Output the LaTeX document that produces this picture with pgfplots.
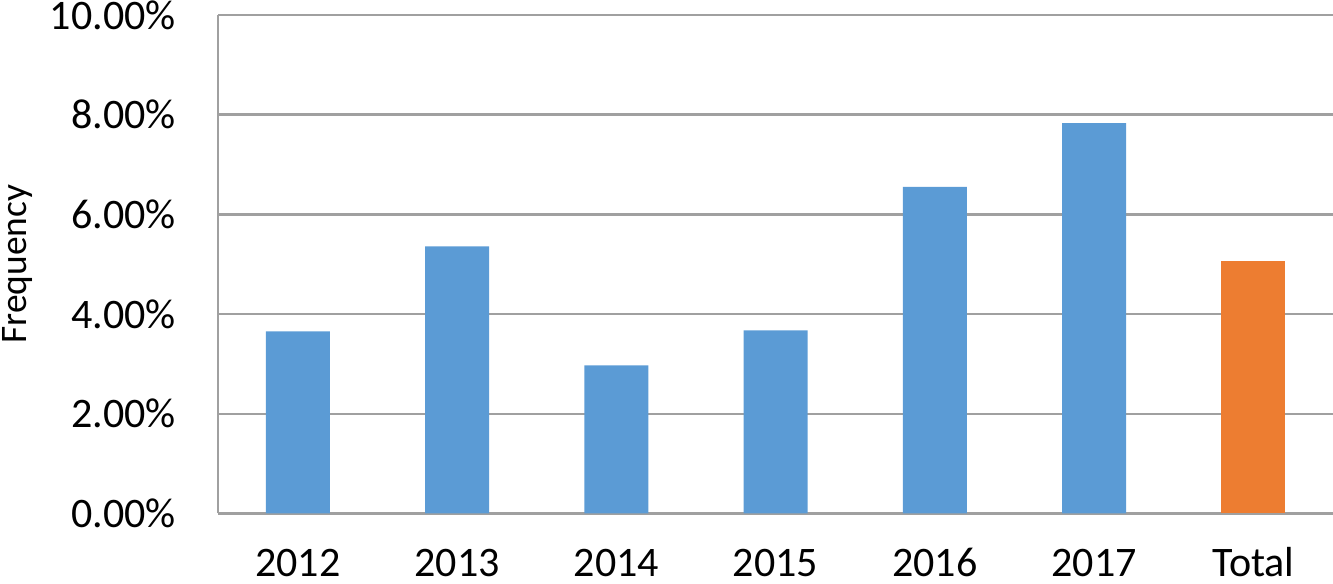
\documentclass[border=0pt]{standalone}
\usepackage{fontspec}
\setmainfont{Carlito}
\usepackage{pgfplots}
\pgfplotsset{compat=1.18}
\definecolor{cBlue}{HTML}{5B9BD5}
\definecolor{cOrange}{HTML}{ED7D31}
\definecolor{cGrid}{HTML}{A0A0A0}
\begin{document}
\begin{tikzpicture}
\begin{axis}[
  scale only axis, width=557pt, height=249pt,
  xmin=-0.5, xmax=6.5, ymin=0, ymax=10,
  xtick={0,...,6}, xticklabels={2012,2013,2014,2015,2016,2017,Total},
  ytick={0,2,...,10},
  yticklabels={0.00\%,2.00\%,4.00\%,6.00\%,8.00\%,10.00\%},
  ymajorgrids, major grid style={cGrid, line width=1.2pt},
  axis lines*=left, axis line style={cGrid, line width=1.2pt},
  major tick length=0pt,
  tick label style={font=\fontsize{21}{24}\selectfont, inner sep=0pt},
  xticklabel style={anchor=base},
  yticklabel shift=21pt, xticklabel shift=31.5pt,
  ybar, bar width=32pt, bar shift=0pt,
]
% yearly values
\addplot[fill=cBlue, draw=none] coordinates {
  (0,3.65) (1,5.36) (2,2.97) (3,3.67) (4,6.55) (5,7.83)};
% overall
\addplot[fill=cOrange, draw=none] coordinates {(6,5.06)};
\end{axis}
\node[rotate=90, anchor=center, font=\fontsize{18.7}{22}\selectfont]
  at ([xshift=-100.5pt]current axis.west) {Frequency};
\pgfresetboundingbox
\path[use as bounding box] ([xshift=-109pt,yshift=-35pt]current axis.south west)
  rectangle ([yshift=7.5pt]current axis.north east);
\end{tikzpicture}
\end{document}
